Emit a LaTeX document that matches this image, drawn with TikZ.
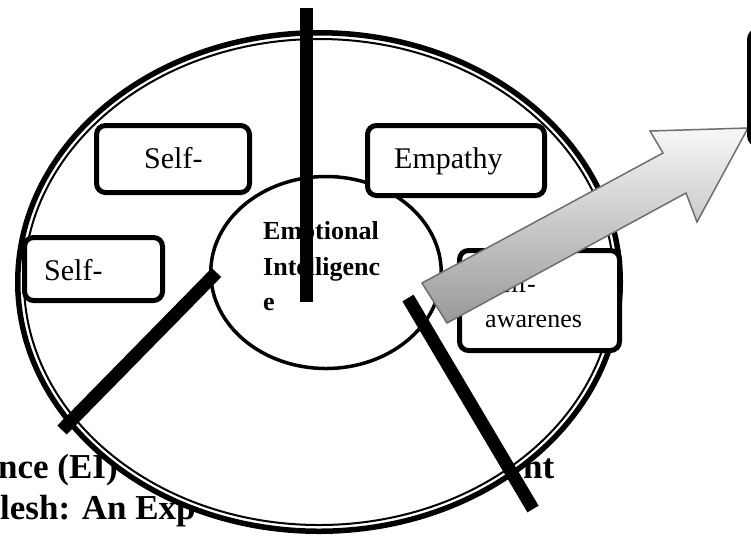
\documentclass[tikz,border=0pt]{standalone}
\usepackage{fontspec}
\setmainfont{Liberation Serif}
\usetikzlibrary{shapes.geometric}
\begin{document}
\begin{tikzpicture}[x=1pt,y=-1pt,
  frame/.style={draw=black, line width=5pt, rounded corners=9pt, fill=white,
    inner sep=0pt, outer sep=0pt},
  spoke/.style={line width=13pt, black, line cap=butt},
  lbl/.style={anchor=base west, inner sep=0pt, font=\fontsize{30}{36}\selectfont},
  lblsm/.style={anchor=base west, inner sep=0pt, font=\fontsize{26}{31}\selectfont},
  core/.style={anchor=base west, inner sep=0pt, font=\bfseries\fontsize{26}{31}\selectfont},
  title/.style={anchor=base west, inner sep=0pt, font=\bfseries\fontsize{35}{40}\selectfont},
  blockarrow/.style={draw=black!57, line width=1.5pt, line join=miter,
    top color=black!3, bottom color=black!40},
  arrowshadow/.style={fill=black!30, draw=none}
]
\useasboundingbox (0,0) rectangle (751,539);

% title lines running behind the wheel
\node[title] (ttl1) at (-2,478) {nce (EI)};
\node[title] (ttl2) at (0,519) {lesh: An Exp};
\node[title] (ttl3) at (523,478) {nt};

% outer wheel: heavy rim with a thin inner ring
\draw[line width=5.5pt, fill=white] (319,282) ellipse [x radius=301.25pt, y radius=249.25pt];
\draw[line width=2pt] (319,282) ellipse [x radius=295pt, y radius=243pt];

% hub
\node[ellipse, draw=black, line width=3.5pt, fill=white, inner sep=0pt,
  minimum width=230.5pt, minimum height=192pt] (hub) at (326,272.5) {};
\node[core] (hub1) at (263,239) {Emotional};
\node[core] (hub2) at (263,275) {Intelligenc};
\node[core] (hub3) at (263,310) {e};

% component boxes
\node[frame, minimum width=153pt, minimum height=67pt] (boxA) at (173,159) {};
\node[lbl] (txtA) at (144,168) {Self-};
\node[frame, minimum width=138pt, minimum height=63pt] (boxB) at (93.5,269) {};
\node[lbl] (txtB) at (44,280) {Self-};
\node[frame, minimum width=177pt, minimum height=70pt] (boxC) at (456,160.5) {};
\node[lbl] (txtC) at (394,168) {Empathy};
\node[frame, minimum width=160pt, minimum height=100pt] (boxD) at (539.5,300.5) {};
\node[lblsm] (txtD1) at (485,292) {Self-};
\node[lblsm] (txtD2) at (485,327) {awarenes};

% spokes
\coordinate (s1a) at (306.5,8);
\coordinate (s1b) at (306.5,302);
\coordinate (s2a) at (216.5,272.5);
\coordinate (s2b) at (62,430);
\coordinate (s3a) at (408,298);
\coordinate (s3b) at (533,509);
\draw[spoke] (s1a) -- (s1b);
\draw[spoke] (s2a) -- (s2b);
\draw[spoke] (s3a) -- (s3b);

% block arrow with its drop shadow
\coordinate (t1) at (422,283);
\coordinate (n1) at (663,153);
\coordinate (b1) at (650,131);
\coordinate (tip) at (748,128);
\coordinate (b2) at (697,222);
\coordinate (n2) at (686,193);
\coordinate (t2) at (447,323);
\fill[arrowshadow, shift={(3,3.5)}] (t1) -- (n1) -- (b1) -- (tip) -- (b2) -- (n2) -- (t2) -- cycle;
\path[blockarrow] (t1) -- (n1) -- (b1) -- (tip) -- (b2) -- (n2) -- (t2) -- cycle;

% target box at the arrow head
\node[frame, minimum width=120pt, minimum height=114pt] (boxE) at (809.5,87.5) {};
\end{tikzpicture}
\end{document}
